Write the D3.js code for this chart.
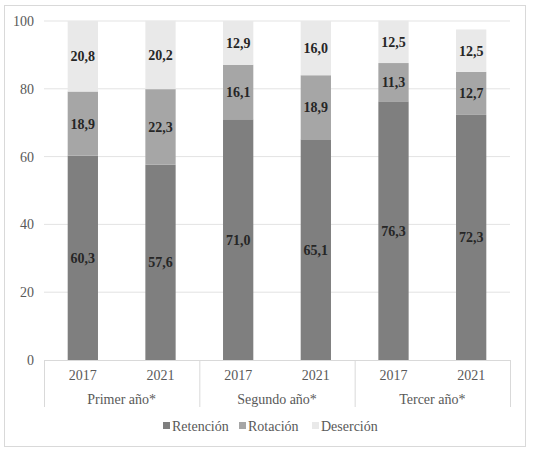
<!DOCTYPE html><html><head><meta charset="utf-8">
<script src="https://cdn.jsdelivr.net/npm/d3@7"></script>
<style>body{margin:0;background:#fff} text{font-family:"Liberation Serif","Times New Roman","DejaVu Serif",serif}</style></head><body>
<svg id="c" width="535" height="452"></svg>
<script>
const groups=["Primer año*","Segundo año*","Tercer año*"];
const years=["2017","2021","2017","2021","2017","2021"];
const retencion=[60.3,57.6,71.0,65.1,76.3,72.3];
const rotacion=[18.9,22.3,16.1,18.9,11.3,12.7];
const desercion=[20.8,20.2,12.9,16.0,12.5,12.5];
const seriesNames=["Retención","Rotación","Deserción"];
const colors=["#7f7f7f","#a6a6a6","#e9e9e9"];
const yTicks=[0,20,40,60,80,100];

const svg=d3.select("#c");
svg.append("rect").attr("x",4.5).attr("y",5.5).attr("width",521).attr("height",441).attr("fill","#fff").attr("stroke","#d9d9d9");
const L=44,R=510,T=21,B=360;
const y=d3.scaleLinear().domain([0,100]).range([B,T]);
const x=d3.scaleBand().domain(d3.range(6)).range([L,R]).paddingInner(0.61).paddingOuter(0.305);
svg.append("g").selectAll("line").data(yTicks.slice(1)).join("line")
 .attr("x1",L).attr("x2",R).attr("y1",d=>y(d)).attr("y2",d=>y(d)).attr("stroke","#e3e3e3");
svg.append("g").selectAll("text").data(yTicks).join("text")
 .attr("x",34).attr("y",d=>y(d)+5).attr("text-anchor","end").attr("font-size",14).attr("fill","#595959").text(d=>d);
const data=d3.range(6).map(i=>({i,Retención:retencion[i],Rotación:rotacion[i],Deserción:desercion[i]}));
const stack=d3.stack().keys(seriesNames)(data);
stack.forEach((s,k)=>{
 const g=svg.append("g");
 g.selectAll("rect").data(s).join("rect").attr("x",d=>x(d.data.i)).attr("width",x.bandwidth())
  .attr("y",d=>y(d[1])).attr("height",d=>y(d[0])-y(d[1])).attr("fill",colors[k]);
 g.selectAll("text").data(s).join("text").attr("x",d=>x(d.data.i)+x.bandwidth()/2)
  .attr("y",d=>(y(d[0])+y(d[1]))/2+5).attr("text-anchor","middle")
  .attr("font-size",14).attr("font-weight","bold").attr("fill","#262626")
  .text(d=>(d[1]-d[0]).toFixed(1).replace(".",","));
});
const ax=svg.append("g").attr("stroke","#d9d9d9");
ax.append("line").attr("x1",L).attr("x2",R).attr("y1",B+0.5).attr("y2",B+0.5);
const step=(R-L)/3;
[0,1,2,3].forEach(j=>ax.append("line").attr("x1",L+j*step+0.5).attr("x2",L+j*step+0.5).attr("y1",B).attr("y2",407));
svg.append("g").selectAll("text").data(years).join("text").attr("x",(d,i)=>x(i)+x.bandwidth()/2).attr("y",380)
 .attr("text-anchor","middle").attr("font-size",14).attr("fill","#595959").text(d=>d);
svg.append("g").selectAll("text").data(groups).join("text").attr("x",(d,j)=>L+step*(j+0.5)).attr("y",404)
 .attr("text-anchor","middle").attr("font-size",14).attr("fill","#595959").text(d=>d);
const lx=[163,239,312];
seriesNames.forEach((n,k)=>{
 svg.append("rect").attr("x",lx[k]).attr("y",422).attr("width",7).attr("height",7).attr("fill",colors[k]);
 svg.append("text").attr("x",lx[k]+9).attr("y",431).attr("font-size",14).attr("fill","#595959").text(n);
});
</script></body></html>
